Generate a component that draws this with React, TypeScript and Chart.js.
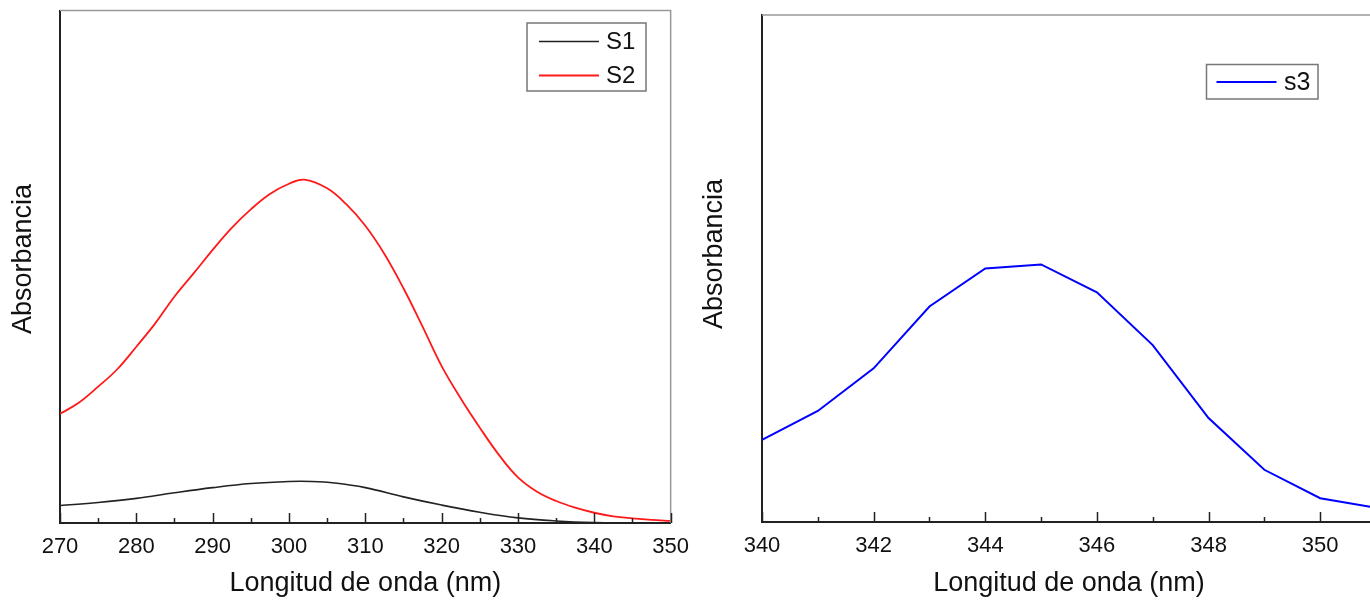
import React, { useEffect, useRef } from 'react';
import { Chart, registerables } from 'chart.js';

Chart.register(...registerables);

// ---------- Data ----------
const s1Wavelengths = [270, 275, 280, 285, 290, 295, 300, 303, 306, 310, 315, 320, 325, 330, 335, 340, 345, 350];
const s1Values = [0.034, 0.040, 0.048, 0.059, 0.069, 0.077, 0.081, 0.081, 0.078, 0.069, 0.051, 0.035, 0.021, 0.010, 0.004, 0.001, 0.0005, 0];

const s2Wavelengths = [
  270, 272.5, 275, 277.5, 280, 282.5, 285, 287.5, 290, 292.5, 295, 297.5, 300, 302, 305, 307.5, 310,
  312.5, 315, 317.5, 320, 322.5, 325, 327.5, 330, 332.5, 335, 337.5, 340, 342.5, 345, 347.5, 350,
];
const s2Values = [
  0.213, 0.235, 0.266, 0.300, 0.344, 0.390, 0.442, 0.487, 0.533, 0.576, 0.612, 0.642, 0.662, 0.670, 0.653, 0.622, 0.580,
  0.525, 0.458, 0.383, 0.306, 0.243, 0.186, 0.133, 0.089, 0.061, 0.043, 0.030, 0.020, 0.013, 0.009, 0.006, 0.004,
];

const s3Wavelengths = [340, 341, 342, 343, 344, 345, 346, 347, 348, 349, 350, 351];
const s3Values = [0.162, 0.219, 0.303, 0.425, 0.500, 0.508, 0.453, 0.349, 0.205, 0.103, 0.047, 0.028];

const leftMajorTicks = [270, 280, 290, 300, 310, 320, 330, 340, 350];
const leftMinorTicks = [275, 285, 295, 305, 315, 325, 335, 345];
const rightMajorTicks = [340, 342, 344, 346, 348, 350];
const rightMinorTicks = [341, 343, 345, 347, 349, 351];

const xTitle = 'Longitud de onda (nm)';
const yTitle = 'Absorbancia';

const FONT = '"Liberation Sans", Arial, sans-serif';

// ---------- Plugin: frame, inward ticks, legend, y title ----------
const decorPlugin = {
  id: 'decor',
  afterDatasetsDraw(chart: any, _args: any, opts: any) {
    const { ctx, chartArea: a, scales } = chart;
    const xs = scales.x;
    ctx.save();
    // gray top/right frame
    ctx.strokeStyle = '#999999';
    ctx.lineWidth = 1.5;
    ctx.beginPath();
    ctx.moveTo(a.left, a.top);
    ctx.lineTo(a.right, a.top);
    ctx.lineTo(a.right, a.bottom);
    ctx.stroke();

    // inward ticks
    ctx.strokeStyle = '#222222';
    ctx.lineWidth = 1.5;
    ctx.beginPath();
    for (const v of opts.major) {
      const px = Math.round(xs.getPixelForValue(v)) + 0.5;
      ctx.moveTo(px, a.bottom);
      ctx.lineTo(px, a.bottom - 10);
    }
    for (const v of opts.minor) {
      const px = Math.round(xs.getPixelForValue(v)) + 0.5;
      ctx.moveTo(px, a.bottom);
      ctx.lineTo(px, a.bottom - 5);
    }
    ctx.stroke();

    // legend
    const lg = opts.legend;
    ctx.fillStyle = '#ffffff';
    ctx.fillRect(lg.x, lg.y, lg.w, lg.h);
    ctx.strokeStyle = '#777777';
    ctx.lineWidth = 1.5;
    ctx.strokeRect(lg.x, lg.y, lg.w, lg.h);
    ctx.font = `${lg.fontSize}px ${FONT}`;
    ctx.textBaseline = 'middle';
    ctx.textAlign = 'left';
    chart.data.datasets.forEach((ds: any, i: number) => {
      const cy = lg.y + lg.firstRow + i * lg.rowGap;
      ctx.strokeStyle = ds.borderColor;
      ctx.lineWidth = ds.borderWidth;
      ctx.beginPath();
      ctx.moveTo(lg.lineX0, cy);
      ctx.lineTo(lg.lineX1, cy);
      ctx.stroke();
      ctx.fillStyle = '#111111';
      ctx.fillText(ds.label, lg.textX, cy + 1);
    });

    // y axis title
    ctx.translate(opts.yTitleX, opts.yTitleY);
    ctx.rotate(-Math.PI / 2);
    ctx.font = `27px ${FONT}`;
    ctx.fillStyle = '#111111';
    ctx.textAlign = 'center';
    ctx.textBaseline = 'middle';
    ctx.fillText(yTitle, 0, 0);
    ctx.restore();
  },
};

function buildConfig(p: {
  datasets: any[];
  min: number;
  max: number;
  major: number[];
  minor: number[];
  padding: any;
  yWidth: number;
  xHeight: number;
  legend: any;
  yTitleX: number;
  yTitleY: number;
}) {
  const all = [...p.major, ...p.minor].sort((a, b) => a - b);
  return {
    type: 'line',
    data: { datasets: p.datasets },
    plugins: [decorPlugin],
    options: {
      animation: false,
      responsive: false,
      maintainAspectRatio: false,
      layout: { padding: p.padding },
      plugins: {
        legend: { display: false },
        tooltip: { enabled: false },
        decor: {
          major: p.major,
          minor: p.minor,
          legend: p.legend,
          yTitleX: p.yTitleX,
          yTitleY: p.yTitleY,
        },
      },
      elements: { point: { radius: 0 } },
      scales: {
        x: {
          type: 'linear',
          min: p.min,
          max: p.max,
          afterBuildTicks: (scale: any) => {
            scale.ticks = all.map((v) => ({ value: v }));
          },
          afterFit: (scale: any) => {
            scale.height = p.xHeight;
          },
          ticks: {
            autoSkip: false,
            maxRotation: 0,
            minRotation: 0,
            padding: 11,
            color: '#111111',
            font: { family: FONT, size: 22 },
            callback: (v: any) => (p.major.includes(Number(v)) ? String(v) : ''),
          },
          grid: { display: false, drawTicks: false },
          border: { display: true, color: '#222222', width: 2 },
          title: {
            display: true,
            text: xTitle,
            color: '#111111',
            font: { family: FONT, size: 27 },
            padding: { top: 0, bottom: 0 },
          },
        },
        y: {
          type: 'linear',
          min: 0,
          max: 1,
          afterFit: (scale: any) => {
            scale.width = p.yWidth;
          },
          ticks: { display: false },
          grid: { display: false, drawTicks: false },
          border: { display: true, color: '#222222', width: 2 },
        },
      },
    },
  };
}

function ChartCanvas({ config, width, height, left }: { config: any; width: number; height: number; left: number }) {
  const ref = useRef<HTMLCanvasElement | null>(null);
  useEffect(() => {
    if (!ref.current) return;
    const chart = new Chart(ref.current, config);
    return () => chart.destroy();
  }, [config]);
  return (
    <canvas
      ref={ref}
      width={width}
      height={height}
      style={{ position: 'absolute', left, top: 0, width, height, display: 'block' }}
    />
  );
}

const toPoints = (xs: number[], ys: number[]) => xs.map((x, i) => ({ x, y: ys[i] }));

const leftConfig = buildConfig({
  datasets: [
    {
      label: 'S1',
      data: toPoints(s1Wavelengths, s1Values),
      borderColor: '#222222',
      borderWidth: 1.6,
      tension: 0.4,
      fill: false,
    },
    {
      label: 'S2',
      data: toPoints(s2Wavelengths, s2Values),
      borderColor: '#ff1a1a',
      borderWidth: 1.8,
      tension: 0.4,
      fill: false,
    },
  ],
  min: 270,
  max: 350,
  major: leftMajorTicks,
  minor: leftMinorTicks,
  padding: { top: 10.5, right: 0, left: 0, bottom: 0 },
  yWidth: 60,
  xHeight: 77,
  legend: { x: 527, y: 23, w: 119, h: 68, firstRow: 18.5, rowGap: 34, lineX0: 539, lineX1: 599, textX: 606, fontSize: 24 },
  yTitleX: 23.5,
  yTitleY: 259,
});

const rightConfig = buildConfig({
  datasets: [
    {
      label: 's3',
      data: toPoints(s3Wavelengths, s3Values),
      borderColor: '#0000ff',
      borderWidth: 2,
      tension: 0,
      fill: false,
    },
  ],
  min: 340,
  max: 351,
  major: rightMajorTicks,
  minor: rightMinorTicks,
  padding: { top: 15, right: 14, left: 0, bottom: 0 },
  yWidth: 72,
  xHeight: 78,
  legend: { x: 516.5, y: 64.5, w: 111.5, h: 34.5, firstRow: 17.5, rowGap: 34, lineX0: 526.5, lineX1: 586.5, textX: 594, fontSize: 25 },
  yTitleX: 25,
  yTitleY: 254,
});

export default function App() {
  return (
    <div
      style={{
        position: 'absolute',
        left: 0,
        top: 0,
        width: 1370,
        height: 600,
        overflow: 'hidden',
        background: '#ffffff',
      }}
    >
      <ChartCanvas config={leftConfig} width={700} height={600} left={0} />
      <ChartCanvas config={rightConfig} width={700} height={600} left={690} />
    </div>
  );
}
